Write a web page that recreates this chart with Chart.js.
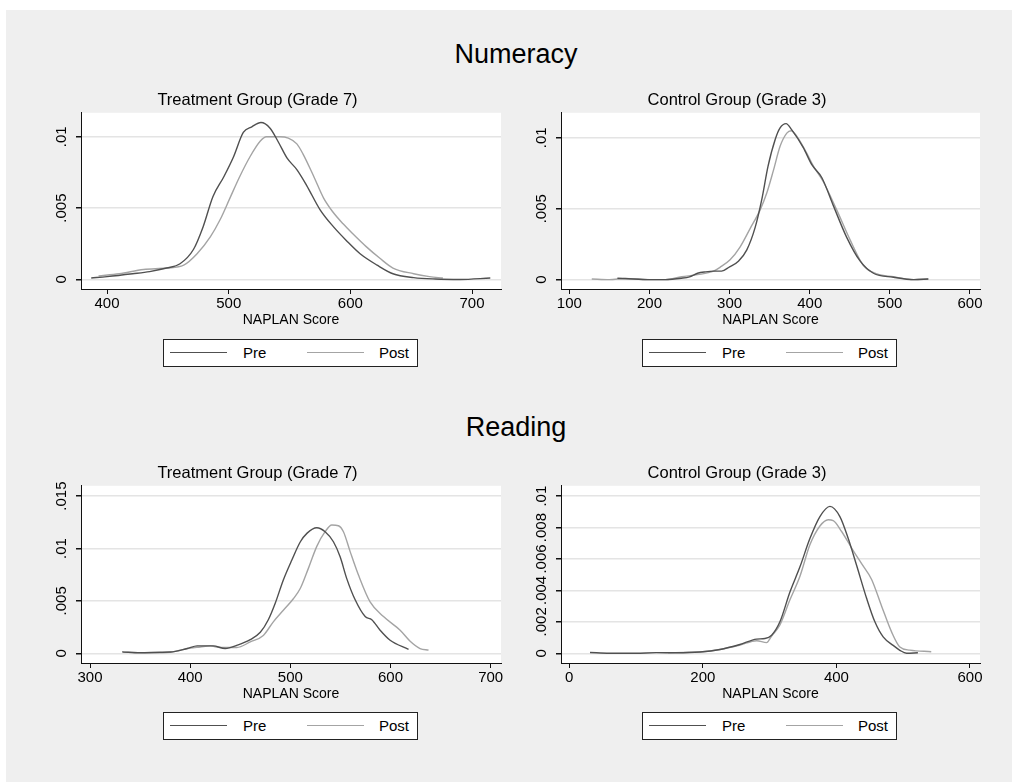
<!DOCTYPE html>
<html>
<head>
<meta charset="utf-8">
<script src="https://cdn.jsdelivr.net/npm/chart.js@4.4.1/dist/chart.umd.min.js"></script>
<style>
  html, body { margin: 0; padding: 0; background: #fff; }
  #page { position: relative; width: 1013px; height: 782px; overflow: hidden; font-family: "Liberation Sans", Arial, sans-serif; }
  #bg { position: absolute; left: 6px; top: 10px; width: 1006px; height: 772px; background: #efefef; }
  canvas { position: absolute; }
  .maintitle { position: absolute; left: 366px; width: 300px; text-align: center; font-size: 27px; line-height: 32px; color: #000; }
  .legend { position: absolute; width: 253px; height: 26px; border: 1px solid #222; background: #fff; font-size: 15px; color: #000; }
  .legend .ln { position: absolute; top: 12px; width: 57px; height: 0; border-top: 1.5px solid; }
  .legend .tx { position: absolute; top: 4px; line-height: 18px; }
</style>
</head>
<body>
<div id="page">
  <div id="bg"></div>
  <div class="maintitle" style="top:38px">Numeracy</div>
  <div class="maintitle" style="top:411px">Reading</div>
  <canvas id="numTreat" width="496" height="245" style="left:14px;top:84px"></canvas>
  <canvas id="numCtrl" width="495" height="245" style="left:494px;top:84px"></canvas>
  <canvas id="readTreat" width="496" height="246" style="left:14px;top:457px"></canvas>
  <canvas id="readCtrl" width="495" height="246" style="left:494px;top:457px"></canvas>
</div>

<script>
// ===== DATA =====
// Numeracy - Treatment Group (Grade 7)
const numTreatPreX  = [387, 400, 421, 435, 449, 460, 471, 479, 487, 496, 504, 512, 519, 526.5, 534, 541, 548, 556, 564, 575, 586, 597, 608, 622, 635, 652, 670, 690, 715]
const numTreatPreY  = [0.0001, 0.0002, 0.0004, 0.00055, 0.0008, 0.0011, 0.0021, 0.0037, 0.0058, 0.0072, 0.0086, 0.0103, 0.0107, 0.0110, 0.0106, 0.0096, 0.0085, 0.0077, 0.0066, 0.0049, 0.0037, 0.0027, 0.0018, 0.0010, 0.0004, 0.00013, 0.00003, 0.0, 0.0001]
const numTreatPostX = [393, 410, 430, 449, 463, 474, 485, 493, 501, 509, 517.5, 526, 531, 542, 549, 556, 561, 570, 578, 585, 594, 602, 613, 624, 635, 652, 665, 676]
const numTreatPostY = [0.00025, 0.0004, 0.0007, 0.0008, 0.001, 0.0018, 0.003, 0.0042, 0.0057, 0.0072, 0.0086, 0.0097, 0.0100, 0.0100, 0.0099, 0.0095, 0.0088, 0.0072, 0.0057, 0.0048, 0.0039, 0.0032, 0.0023, 0.0015, 0.0008, 0.0004, 0.0002, 0.0001]

// Numeracy - Control Group (Grade 3)
const numCtrlPreX  = [160, 180, 200, 220, 240, 250, 260, 270, 280, 290, 300, 311, 321.5, 332, 340, 348, 357, 363, 370.5, 377.6, 392, 402.6, 415, 429.6, 446, 463, 479.5, 504.5, 530, 548]
const numCtrlPreY  = [0.0001, 0.00005, 0.0, 0.0, 0.0001, 0.0002, 0.00045, 0.00055, 0.0006, 0.0006, 0.0009, 0.0013, 0.0021, 0.0037, 0.0056, 0.0080, 0.0099, 0.0107, 0.0110, 0.01056, 0.0093, 0.0081, 0.0072, 0.0052, 0.0030, 0.0013, 0.00045, 0.00017, 0.0, 0.00005]
const numCtrlPostX = [128, 150, 170, 200, 220, 240, 260, 280, 288, 300.6, 313, 325.6, 338, 346.4, 354.7, 363, 371.4, 376.8, 384, 396.4, 404.6, 417, 433.8, 450.4, 467, 484, 504.5, 530, 548]
const numCtrlPostY = [0.00005, 0.0, 0.00008, 0.0, 0.0, 0.0002, 0.00035, 0.0006, 0.00087, 0.0014, 0.0023, 0.0036, 0.0049, 0.0061, 0.0077, 0.0094, 0.01033, 0.0105, 0.0101, 0.0089, 0.0080, 0.0069, 0.0049, 0.0028, 0.0010, 0.0004, 0.0002, 0.0, 0.00005]

// Reading - Treatment Group (Grade 7)
const readTreatPreX  = [332, 350, 370, 380, 397, 407, 423, 435, 447, 460, 470, 478, 485, 493, 501.5, 510, 516.5, 526.4, 534.7, 543, 549.7, 556.4, 564.7, 574.7, 581.3, 589.6, 599.6, 618]
const readTreatPreY  = [0.00013, 0.00005, 0.0001, 0.00012, 0.00045, 0.0007, 0.0007, 0.00045, 0.00077, 0.0013, 0.0020, 0.0032, 0.0048, 0.0070, 0.0089, 0.01064, 0.01144, 0.01198, 0.0116, 0.01064, 0.0092, 0.0071, 0.0051, 0.0035, 0.0032, 0.0022, 0.00124, 0.00038]
const readTreatPostX = [333, 360, 380, 400, 410, 420, 430, 446.6, 460, 473, 483, 493, 503, 510, 518, 526.4, 534.7, 541.4, 548, 553, 559.7, 568, 579.6, 593, 609.6, 619.6, 629.5, 638]
const readTreatPostY = [0.0001, 0.00005, 0.0001, 0.0005, 0.0006, 0.0007, 0.00055, 0.00055, 0.00108, 0.0017, 0.0030, 0.0041, 0.0052, 0.0062, 0.0081, 0.0102, 0.0116, 0.01224, 0.01217, 0.0116, 0.0097, 0.00746, 0.0049, 0.0035, 0.0022, 0.00115, 0.00045, 0.0003]

// Reading - Control Group (Grade 3)
const readCtrlPreX  = [31, 60, 100, 130, 160, 195.7, 225.6, 255.5, 280.5, 293, 303, 315.4, 330.4, 345.4, 360.3, 375.3, 390.3, 405.2, 417.7, 430.2, 445.2, 457.6, 470, 485, 495, 505, 522]
const readCtrlPreY  = [0.00005, 0.0, 0.0, 0.00004, 0.00003, 0.00008, 0.00024, 0.00056, 0.0009, 0.00094, 0.00115, 0.0020, 0.0039, 0.0055, 0.0073, 0.0087, 0.00935, 0.0087, 0.0073, 0.0056, 0.0035, 0.0020, 0.00104, 0.0005, 0.00019, 0.0, 0.00003]
const readCtrlPostX = [148, 180, 200, 225.6, 255.5, 280.5, 295.5, 303, 315.4, 330.4, 345.4, 360.3, 375.3, 387.7, 395.2, 407.8, 422.8, 437.7, 452.7, 467.7, 482.6, 495, 510, 542]
const readCtrlPostY = [0.00003, 0.00006, 0.0001, 0.00024, 0.00052, 0.0008, 0.00068, 0.0011, 0.0018, 0.0034, 0.0049, 0.0069, 0.0081, 0.0085, 0.00845, 0.00775, 0.0067, 0.0057, 0.0047, 0.0030, 0.00136, 0.0004, 0.0002, 0.0001]

// tick labels per panel
const numTreatXTicks  = [400, 500, 600, 700]
const numCtrlXTicks   = [100, 200, 300, 400, 500, 600]
const readTreatXTicks = [300, 400, 500, 600, 700]
const readCtrlXTicks  = [0, 200, 400, 600]
const numYTicks       = [0, 0.005, 0.01]
const readTreatYTicks = [0, 0.005, 0.01, 0.015]
const readCtrlYTicks  = [0, 0.002, 0.004, 0.006, 0.008, 0.01]

const seriesLabels = ['Pre', 'Post']

// ===== STYLE =====
const FONT = '"Liberation Sans", Arial, sans-serif'
const PRE_COLOR = '#505050'
const POST_COLOR = '#a4a4a4'
Chart.defaults.font.family = FONT

// white plot region like Stata's plotregion
const plotBg = {
  id: 'plotBg',
  beforeDraw(chart) {
    const { ctx, chartArea: a } = chart
    ctx.save()
    ctx.fillStyle = '#ffffff'
    ctx.fillRect(a.left, a.top, a.right - a.left, a.bottom - a.top)
    ctx.restore()
  }
}

function toPoints(xs, ys) {
  return xs.map((x, i) => ({ x: x, y: ys[i] }))
}

// Stata style tick label: .005 instead of 0.005
function fmtY(value) {
  if (value === 0) return '0'
  return String(value).replace(/^0\./, '.')
}

function makePanel(canvasId, cfg) {
  const ctx = document.getElementById(canvasId).getContext('2d')
  return new Chart(ctx, {
    type: 'line',
    data: {
      datasets: [{
        label: seriesLabels[0],
        data: toPoints(cfg.preX, cfg.preY),
        borderColor: PRE_COLOR,
        borderWidth: 1.4,
        pointRadius: 0,
        cubicInterpolationMode: 'monotone',
        fill: false
      }, {
        label: seriesLabels[1],
        data: toPoints(cfg.postX, cfg.postY),
        borderColor: POST_COLOR,
        borderWidth: 1.4,
        pointRadius: 0,
        cubicInterpolationMode: 'monotone',
        fill: false
      }]
    },
    options: {
      responsive: false,
      animation: false,
      layout: { padding: { left: 0, right: 9, top: 0, bottom: 0 } },
      plugins: {
        legend: { display: false },
        tooltip: { enabled: false },
        title: {
          display: true,
          text: cfg.title,
          color: '#000',
          font: { size: 16.5, weight: 'normal' },
          padding: { top: 7, bottom: 2 }
        }
      },
      scales: {
        x: {
          type: 'linear',
          min: cfg.xMin,
          max: cfg.xMax,
          afterBuildTicks: function(scale) {
            scale.ticks = cfg.xTicks.map(v => ({ value: v }))
          },
          afterFit: function(scale) {
            scale.height = 40
            scale.paddingLeft = 0
            scale.paddingRight = 0
          },
          grid: { drawOnChartArea: false, tickLength: 5, tickColor: '#111' },
          border: { color: '#111', width: 1 },
          ticks: { autoSkip: false, maxRotation: 0, padding: 1, color: '#000', font: { size: 15 } },
          title: { display: true, text: 'NAPLAN Score', color: '#000', font: { size: 14 }, padding: 0 }
        },
        y: {
          type: 'linear',
          min: cfg.yMin,
          max: cfg.yMax,
          afterBuildTicks: function(scale) {
            scale.ticks = cfg.yTicks.map(v => ({ value: v }))
          },
          afterFit: function(scale) {
            scale.width = 67
            scale.paddingTop = 0
            scale.paddingBottom = 0
          },
          grid: { color: '#e4e4e4', lineWidth: 1.5, tickLength: 5, tickColor: '#111' },
          border: { color: '#111', width: 1 },
          ticks: {
            autoSkip: false,
            minRotation: 90,
            maxRotation: 90,
            crossAlign: 'center',
            padding: 0,
            color: '#000',
            font: { size: 15 },
            callback: fmtY
          }
        }
      }
    },
    plugins: [plotBg]
  })
}

// ===== RENDER =====
makePanel('numTreat', {
  title: 'Treatment Group (Grade 7)',
  preX: numTreatPreX, preY: numTreatPreY, postX: numTreatPostX, postY: numTreatPostY,
  xTicks: numTreatXTicks, xMin: 378.6, xMax: 723.8,
  yTicks: numYTicks, yMin: -0.00067, yMax: 0.01168
})
makePanel('numCtrl', {
  title: 'Control Group (Grade 3)',
  preX: numCtrlPreX, preY: numCtrlPreY, postX: numCtrlPostX, postY: numCtrlPostY,
  xTicks: numCtrlXTicks, xMin: 89.6, xMax: 612.5,
  yTicks: numYTicks, yMin: -0.00066, yMax: 0.01176
})
makePanel('readTreat', {
  title: 'Treatment Group (Grade 7)',
  preX: readTreatPreX, preY: readTreatPreY, postX: readTreatPostX, postY: readTreatPostY,
  xTicks: readTreatXTicks, xMin: 291, xMax: 710.3,
  yTicks: readTreatYTicks, yMin: -0.00093, yMax: 0.01598
})
makePanel('readCtrl', {
  title: 'Control Group (Grade 3)',
  preX: readCtrlPreX, preY: readCtrlPreY, postX: readCtrlPostX, postY: readCtrlPostY,
  xTicks: readCtrlXTicks, xMin: -12.4, xMax: 615,
  yTicks: readCtrlYTicks, yMin: -0.00062, yMax: 0.01066
})

// ===== LEGENDS (boxed, Stata style) =====
function addLegend(left, top) {
  const box = document.createElement('div')
  box.className = 'legend'
  box.style.left = left + 'px'
  box.style.top = top + 'px'
  box.innerHTML =
    '<div class="ln" style="left:6px;border-color:' + PRE_COLOR + '"></div>' +
    '<div class="tx" style="left:79px">' + seriesLabels[0] + '</div>' +
    '<div class="ln" style="left:143px;border-color:' + POST_COLOR + '"></div>' +
    '<div class="tx" style="left:215px">' + seriesLabels[1] + '</div>'
  document.getElementById('page').appendChild(box)
}
addLegend(163, 339)
addLegend(642, 339)
addLegend(163, 712)
addLegend(642, 712)
</script>
</body>
</html>
